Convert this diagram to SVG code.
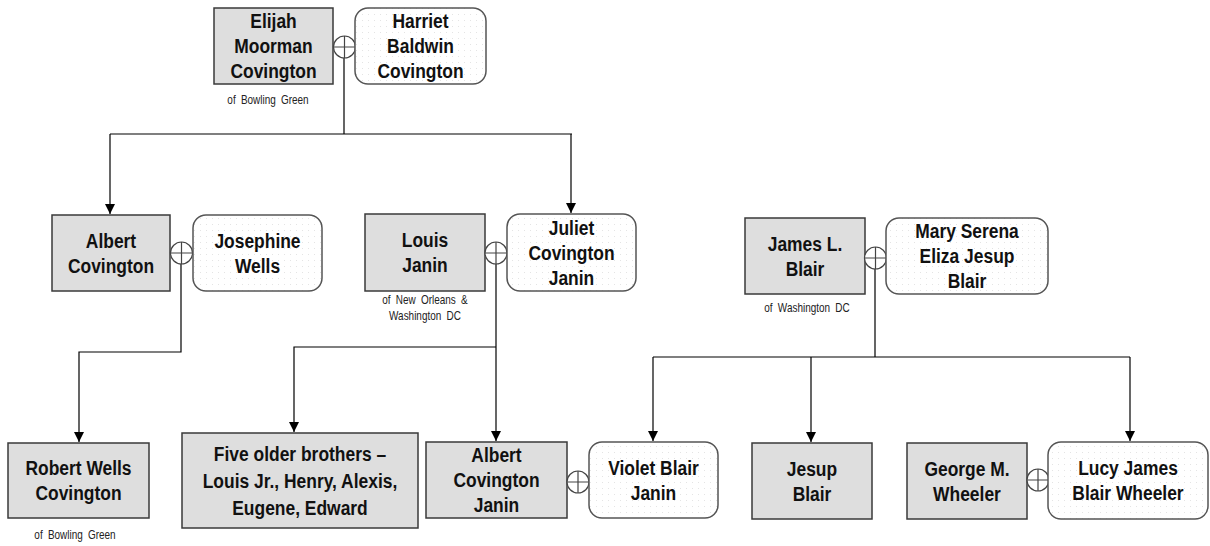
<svg xmlns="http://www.w3.org/2000/svg" width="1210" height="546" viewBox="0 0 1210 546">
<defs>
<pattern id="dots" width="6" height="6" patternUnits="userSpaceOnUse"><rect width="6" height="6" fill="#ffffff"/><rect x="2" y="2" width="1" height="1" fill="#e4e4e4"/></pattern>
<marker id="arr" markerWidth="10" markerHeight="10" refX="10" refY="5" orient="auto" markerUnits="userSpaceOnUse"><path d="M0,0 L10,5 L0,10 z" fill="#000"/></marker>
</defs>
<style>
.m{fill:#dedede;stroke:#3a3a3a;stroke-width:1.5}
.f{fill:url(#dots);stroke:#555;stroke-width:1.5}
.t{font-family:"Liberation Sans",Arial,sans-serif;font-weight:bold;font-size:21px;fill:#111;text-anchor:middle}
.s{font-family:"Liberation Sans",Arial,sans-serif;font-size:12px;fill:#222;text-anchor:middle;word-spacing:3px}
.c{fill:#fff;stroke:#444;stroke-width:1.2}
.k{stroke:#444;stroke-width:1.2;fill:none}
.l{stroke:#000;stroke-width:1.2;fill:none}
</style>
<g id="connectors">
<path class="l" d="M344,58 V134 M110,134 H572"/>
<path class="l" d="M110,134 V214" marker-end="url(#arr)"/>
<path class="l" d="M571,134 V213" marker-end="url(#arr)"/>
<path class="l" d="M181,264 V352 H79 V442" marker-end="url(#arr)"/>
<path class="l" d="M496,264 V441" marker-end="url(#arr)"/>
<path class="l" d="M496,347 H294 V432" marker-end="url(#arr)"/>
<path class="l" d="M875,269 V357 M653,357 H1130"/>
<path class="l" d="M653,357 V441" marker-end="url(#arr)"/>
<path class="l" d="M811,357 V442" marker-end="url(#arr)"/>
<path class="l" d="M1130,357 V441" marker-end="url(#arr)"/>
</g>
<g id="elijah"><rect class="m" x="214" y="8" width="119" height="76"/><text class="t" transform="translate(46.495,0) scale(0.83,1)" x="273.5" y="28.5"><tspan x="273.5">Elijah</tspan><tspan x="273.5" dy="25">Moorman</tspan><tspan x="273.5" dy="25">Covington</tspan></text><text class="s" transform="translate(45.56,0) scale(0.83,1)" x="268" y="104">of Bowling Green</text></g>
<g id="m1"><circle class="c" cx="344.5" cy="47" r="11"/><path class="k" d="M333.5,47 H355.5 M344.5,36 V58"/></g>
<g id="harriet"><rect class="f" x="355" y="8" width="131" height="76" rx="13"/><text class="t" transform="translate(71.485,0) scale(0.83,1)" x="420.5" y="28.5"><tspan x="420.5">Harriet</tspan><tspan x="420.5" dy="25">Baldwin</tspan><tspan x="420.5" dy="25">Covington</tspan></text></g>

<g id="albert"><rect class="m" x="52" y="215" width="118" height="76"/><text class="t" transform="translate(18.87,0) scale(0.83,1)" x="111" y="248"><tspan x="111">Albert</tspan><tspan x="111" dy="25">Covington</tspan></text></g>
<g id="m2"><circle class="c" cx="181.5" cy="253" r="11"/><path class="k" d="M170.5,253 H192.5 M181.5,242 V264"/></g>
<g id="josephine"><rect class="f" x="193" y="215" width="129" height="76" rx="13"/><text class="t" transform="translate(43.775,0) scale(0.83,1)" x="257.5" y="248"><tspan x="257.5">Josephine</tspan><tspan x="257.5" dy="25">Wells</tspan></text></g>

<g id="louis"><rect class="m" x="365" y="214" width="120" height="77"/><text class="t" transform="translate(72.25,0) scale(0.83,1)" x="425" y="247.5"><tspan x="425">Louis</tspan><tspan x="425" dy="25">Janin</tspan></text><text class="s" transform="translate(72.25,0) scale(0.83,1)" x="425" y="304"><tspan x="425">of New Orleans &amp;</tspan><tspan x="425" dy="16">Washington DC</tspan></text></g>
<g id="m3"><circle class="c" cx="496" cy="253" r="11"/><path class="k" d="M485,253 H507 M496,242 V264"/></g>
<g id="juliet"><rect class="f" x="507" y="214" width="129" height="77" rx="13"/><text class="t" transform="translate(97.155,0) scale(0.83,1)" x="571.5" y="235"><tspan x="571.5">Juliet</tspan><tspan x="571.5" dy="25">Covington</tspan><tspan x="571.5" dy="25">Janin</tspan></text></g>

<g id="james"><rect class="m" x="745" y="218" width="120" height="76"/><text class="t" transform="translate(136.85,0) scale(0.83,1)" x="805" y="251"><tspan x="805">James L.</tspan><tspan x="805" dy="25">Blair</tspan></text><text class="s" transform="translate(137.19,0) scale(0.83,1)" x="807" y="312">of Washington DC</text></g>
<g id="m4"><circle class="c" cx="875.5" cy="258" r="11"/><path class="k" d="M864.5,258 H886.5 M875.5,247 V269"/></g>
<g id="mary"><rect class="f" x="886" y="218" width="162" height="76" rx="13"/><text class="t" transform="translate(164.39,0) scale(0.83,1)" x="967" y="238.5"><tspan x="967">Mary Serena</tspan><tspan x="967" dy="25">Eliza Jesup</tspan><tspan x="967" dy="25">Blair</tspan></text></g>

<g id="robert"><rect class="m" x="8" y="443" width="141" height="75"/><text class="t" transform="translate(13.345,0) scale(0.83,1)" x="78.5" y="475.5"><tspan x="78.5">Robert Wells</tspan><tspan x="78.5" dy="25">Covington</tspan></text><text class="s" transform="translate(12.75,0) scale(0.83,1)" x="75" y="539">of Bowling Green</text></g>

<g id="brothers"><rect class="m" x="182" y="433" width="236" height="95"/><text class="t" transform="translate(51,0) scale(0.83,1)" x="300" y="461"><tspan x="300">Five older brothers –</tspan><tspan x="300" dy="27">Louis Jr., Henry, Alexis,</tspan><tspan x="300" dy="27">Eugene, Edward</tspan></text></g>

<g id="acjanin"><rect class="m" x="426" y="442" width="141" height="76"/><text class="t" transform="translate(84.405,0) scale(0.83,1)" x="496.5" y="462.5"><tspan x="496.5">Albert</tspan><tspan x="496.5" dy="25">Covington</tspan><tspan x="496.5" dy="25">Janin</tspan></text></g>
<g id="m5"><circle class="c" cx="578" cy="482" r="11"/><path class="k" d="M567,482 H589 M578,471 V493"/></g>
<g id="violet"><rect class="f" x="589" y="442" width="129" height="76" rx="13"/><text class="t" transform="translate(111.095,0) scale(0.83,1)" x="653.5" y="475"><tspan x="653.5">Violet Blair</tspan><tspan x="653.5" dy="25">Janin</tspan></text></g>

<g id="jesup"><rect class="m" x="752" y="443" width="120" height="76"/><text class="t" transform="translate(138.04,0) scale(0.83,1)" x="812" y="476"><tspan x="812">Jesup</tspan><tspan x="812" dy="25">Blair</tspan></text></g>

<g id="george"><rect class="m" x="907" y="443" width="120" height="76"/><text class="t" transform="translate(164.39,0) scale(0.83,1)" x="967" y="476"><tspan x="967">George M.</tspan><tspan x="967" dy="25">Wheeler</tspan></text></g>
<g id="m6"><circle class="c" cx="1038" cy="480" r="11"/><path class="k" d="M1027,480 H1049 M1038,469 V491"/></g>
<g id="lucy"><rect class="f" x="1048" y="442" width="160" height="77" rx="13"/><text class="t" transform="translate(191.76,0) scale(0.83,1)" x="1128" y="475.5"><tspan x="1128">Lucy James</tspan><tspan x="1128" dy="25">Blair Wheeler</tspan></text></g>
</svg>
